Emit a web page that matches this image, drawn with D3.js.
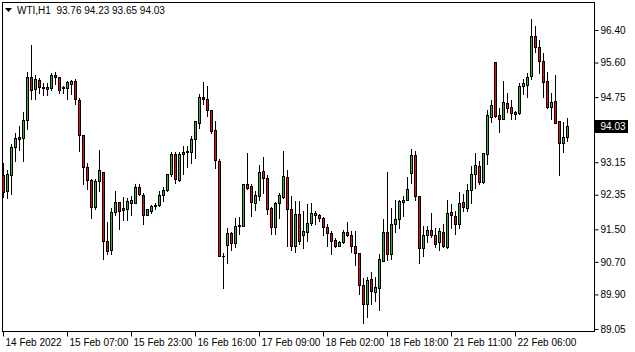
<!DOCTYPE html>
<html>
<head>
<meta charset="utf-8">
<script src="https://cdn.jsdelivr.net/npm/d3@7"></script>
<style>
  body { margin: 0; background: #fff; }
  svg { display: block; }
  text { font-family: "Liberation Sans", Arial, sans-serif; font-size: 10px; fill: #000; }
</style>
</head>
<body>
<svg id="chart" width="635" height="352"></svg>
<script>
// WTI hourly bars
const symbol = "WTI,H1";

const opens = [
  92.82, 92.42, 92.82, 93.51, 93.76, 93.74, 94.17, 95.24, 94.93, 95.17,
  94.99, 94.99, 94.97, 95.29, 95.23, 94.96, 94.96, 95.07, 95.14, 94.67,
  93.80, 93.01, 92.71, 92.03, 92.68, 92.90, 91.21, 90.97, 91.91, 92.16,
  92.01, 91.99, 92.14, 92.14, 92.53, 92.32, 91.85, 91.95, 92.06, 92.09,
  92.32, 92.45, 92.84, 93.35, 92.69, 93.33, 93.39, 93.39, 93.70, 94.11,
  94.75, 94.69, 94.43, 93.93, 93.17, 90.82, 91.11, 91.39, 91.15, 91.57,
  91.58, 92.59, 92.55, 92.14, 92.31, 92.92, 92.75, 92.02, 91.55, 92.14,
  92.29, 92.77, 91.98, 91.09, 91.87, 91.36, 91.42, 91.65, 91.85, 91.84,
  91.76, 91.54, 91.39, 91.22, 91.09, 91.17, 91.42, 91.36, 91.07, 90.91,
  90.13, 89.65, 90.27, 89.94, 90.04, 90.72, 91.42, 90.87, 91.61, 91.73,
  92.16, 92.20, 92.88, 93.32, 92.31, 91.03, 91.34, 91.46, 91.36, 91.17,
  91.42, 91.05, 91.91, 91.81, 91.61, 92.16, 92.00, 92.45, 92.84, 93.05,
  92.66, 93.33, 94.25, 95.61, 94.30, 94.21, 94.59, 94.50, 94.36, 94.34,
  95.00, 95.04, 95.25, 96.25, 95.98, 95.62, 95.14, 94.50, 94.65, 94.16,
  93.62, 93.76
];
const highs = [
  93.12, 92.94, 93.59, 93.86, 94.03, 94.38, 95.35, 96.02, 95.27, 95.20,
  95.09, 95.09, 95.32, 95.36, 95.24, 95.02, 95.14, 95.17, 95.19, 94.72,
  93.81, 93.11, 92.72, 92.72, 93.43, 92.90, 91.66, 92.02, 92.43, 92.16,
  92.28, 92.26, 92.31, 92.59, 92.59, 92.39, 91.99, 92.08, 92.13, 92.43,
  92.53, 92.86, 93.40, 93.40, 93.40, 93.54, 93.54, 93.79, 94.16, 94.81,
  95.10, 95.02, 94.43, 94.16, 93.21, 90.91, 91.51, 91.42, 91.76, 91.79,
  92.61, 93.36, 92.61, 92.43, 93.07, 93.27, 92.82, 92.03, 92.16, 92.39,
  93.42, 92.94, 92.31, 92.18, 92.18, 91.94, 92.12, 92.13, 91.95, 91.87,
  91.79, 91.61, 91.44, 91.28, 91.20, 91.46, 91.67, 91.44, 91.44, 90.91,
  90.29, 90.31, 90.43, 90.31, 90.87, 91.73, 92.90, 92.00, 92.22, 92.22,
  92.31, 92.77, 93.46, 93.42, 92.31, 91.57, 91.57, 91.89, 91.51, 91.51,
  91.61, 92.20, 92.12, 91.94, 92.41, 92.35, 92.59, 93.05, 93.36, 93.17,
  93.37, 94.42, 94.67, 95.61, 94.47, 95.14, 94.85, 94.67, 94.40, 95.08,
  95.18, 95.32, 96.65, 96.48, 96.13, 95.82, 95.36, 94.85, 95.27, 94.16,
  94.13, 94.23
];
const lows = [
  92.29, 92.26, 92.35, 93.17, 93.44, 93.17, 93.96, 94.70, 94.70, 94.85,
  94.80, 94.80, 94.92, 95.07, 94.85, 94.85, 94.70, 94.82, 94.57, 93.42,
  92.60, 92.49, 91.77, 91.98, 92.43, 90.76, 90.87, 90.88, 91.85, 91.50,
  91.71, 91.71, 91.83, 92.14, 92.34, 91.62, 91.83, 91.89, 91.98, 92.06,
  92.18, 92.43, 92.80, 92.63, 92.68, 92.86, 93.02, 93.13, 93.25, 93.98,
  94.57, 94.28, 93.86, 93.00, 90.83, 90.04, 90.66, 90.99, 91.05, 91.38,
  91.58, 92.47, 91.81, 91.96, 92.20, 92.39, 91.87, 91.38, 91.38, 91.77,
  92.26, 91.07, 90.97, 90.92, 91.13, 91.03, 91.20, 91.59, 91.61, 91.69,
  91.36, 91.07, 90.88, 91.05, 91.07, 91.15, 91.32, 90.92, 90.60, 89.90,
  89.18, 89.33, 89.65, 89.72, 89.51, 90.70, 90.74, 90.77, 91.42, 91.51,
  91.81, 92.20, 92.63, 92.22, 90.66, 90.83, 91.18, 91.29, 91.05, 90.97,
  91.05, 91.03, 91.52, 91.38, 91.51, 91.94, 91.94, 92.14, 92.51, 92.59,
  92.63, 93.09, 94.13, 94.25, 93.87, 94.21, 94.36, 94.20, 94.20, 94.32,
  94.81, 94.73, 95.18, 95.84, 95.32, 94.75, 94.48, 94.20, 94.11, 92.82,
  93.40, 93.65
];
const closes = [
  92.41, 92.85, 93.51, 93.74, 93.72, 94.17, 95.24, 94.91, 95.19, 94.98,
  94.96, 94.93, 95.29, 95.24, 94.92, 94.98, 95.11, 95.14, 94.69, 93.80,
  93.03, 92.70, 92.03, 92.68, 92.94, 91.21, 90.95, 91.91, 92.16, 91.95,
  91.97, 92.18, 92.21, 92.53, 92.35, 91.85, 91.98, 92.06, 92.09, 92.32,
  92.45, 92.86, 93.35, 92.72, 93.35, 93.39, 93.42, 93.70, 94.16, 94.75,
  94.69, 94.42, 93.91, 93.19, 90.84, 90.84, 91.39, 91.15, 91.57, 91.59,
  92.59, 92.51, 92.16, 92.33, 92.90, 92.74, 91.99, 91.55, 92.14, 92.33,
  92.80, 91.98, 91.07, 91.87, 91.20, 91.44, 91.65, 91.89, 91.89, 91.76,
  91.54, 91.39, 91.20, 91.09, 91.17, 91.42, 91.34, 91.09, 90.91, 90.13,
  89.65, 90.23, 89.96, 90.06, 90.76, 91.42, 90.87, 91.61, 91.73, 92.18,
  92.22, 92.47, 93.32, 92.31, 91.03, 91.34, 91.46, 91.36, 91.13, 91.44,
  91.07, 91.89, 91.83, 91.61, 92.14, 92.03, 92.45, 92.84, 93.07, 92.66,
  93.36, 94.30, 94.54, 94.28, 94.21, 94.62, 94.46, 94.34, 94.32, 95.02,
  95.08, 95.24, 96.25, 95.96, 95.62, 95.12, 94.50, 94.63, 94.11, 93.62,
  93.76, 94.03
];

// time axis: bar index of each label and its text
const timeLabelBars = [0, 16, 32, 48, 64, 80, 96, 112, 128];
const timeLabels = ["14 Feb 2022", "15 Feb 07:00", "15 Feb 23:00", "16 Feb 16:00",
  "17 Feb 09:00", "18 Feb 02:00", "18 Feb 18:00", "21 Feb 11:00", "22 Feb 06:00"];

const priceTicks = [96.40, 95.60, 94.75, 93.15, 92.35, 91.50, 90.70, 89.90, 89.05];

const green = "#3caa3c";
const red = "#e0101a";

const svg = d3.select("#chart");
const frame = { left: 2, right: 594, top: 2, bottom: 331 };

const n = opens.length;
const x = d3.scaleLinear().domain([0, n - 1]).range([3.5, 3.5 + 4 * (n - 1)]);
const y = d3.scaleLinear().domain([89.05, 96.40]).range([328.5, 29.5]);

const bars = opens.map((o, i) => ({ i: i, o: o, h: highs[i], l: lows[i], c: closes[i] }));
const py = v => Math.round(y(v));

// frame
svg.append("rect")
  .attr("x", frame.left + 0.5).attr("y", frame.top + 0.5)
  .attr("width", frame.right - frame.left).attr("height", frame.bottom - frame.top)
  .attr("fill", "none").attr("stroke", "#000");

// wicks
const g = svg.append("g");
g.selectAll("line.wick").data(bars).join("line")
  .attr("class", "wick")
  .attr("x1", d => x(d.i)).attr("x2", d => x(d.i))
  .attr("y1", d => py(d.h)).attr("y2", d => py(d.l) + 1)
  .attr("stroke", "#000");

// bodies
const solid = bars.filter(d => py(Math.min(d.o, d.c)) - py(Math.max(d.o, d.c)) >= 1);
const doji = bars.filter(d => py(Math.min(d.o, d.c)) - py(Math.max(d.o, d.c)) < 1);

g.selectAll("rect.body").data(solid).join("rect")
  .attr("class", "body")
  .attr("x", d => x(d.i) - 1).attr("width", 2)
  .attr("y", d => py(Math.max(d.o, d.c)) + 0.5)
  .attr("height", d => py(Math.min(d.o, d.c)) - py(Math.max(d.o, d.c)))
  .attr("fill", d => d.c >= d.o ? green : red)
  .attr("stroke", "#000");

g.selectAll("line.doji").data(doji).join("line")
  .attr("class", "doji")
  .attr("x1", d => x(d.i) - 1.5).attr("x2", d => x(d.i) + 1.5)
  .attr("y1", d => py(d.c) + 0.5).attr("y2", d => py(d.c) + 0.5)
  .attr("stroke", "#000");

// price axis on the right
const yAxis = d3.axisRight(y)
  .tickValues(priceTicks)
  .tickFormat(d3.format(".2f"))
  .tickSize(4)
  .tickPadding(2);
const ya = svg.append("g")
  .attr("transform", `translate(${frame.right + 0.5},0.5)`)
  .call(yAxis);
ya.select(".domain").remove();
ya.selectAll("text").style("font-family", null).style("font-size", null).attr("fill", "#000");
ya.selectAll("line").attr("stroke", "#000");

// time axis at the bottom
const xAxis = d3.axisBottom(x)
  .tickValues(timeLabelBars)
  .tickFormat((d, i) => timeLabels[i])
  .tickSize(5)
  .tickPadding(2);
const xa = svg.append("g")
  .attr("transform", `translate(-0.5,${frame.bottom + 0.5})`)
  .call(xAxis);
xa.select(".domain").remove();
xa.selectAll("text").attr("text-anchor", "start").attr("x", 2).attr("fill", "#000");
xa.selectAll("line").attr("stroke", "#000");

// last price marker
const last = closes[n - 1];
svg.append("rect")
  .attr("x", frame.right + 1).attr("y", py(last) - 6)
  .attr("width", 33).attr("height", 13)
  .attr("fill", "#000");
svg.append("text")
  .attr("x", frame.right + 6.5).attr("y", py(last) + 4)
  .style("fill", "#fff")
  .text(d3.format(".2f")(last));

// header
svg.append("path")
  .attr("d", "M5,8 L12,8 L8.5,12 Z")
  .attr("fill", "#000");
svg.append("text")
  .attr("x", 17).attr("y", 14)
  .text(`${symbol}  ${[opens[n - 1], highs[n - 1], lows[n - 1], closes[n - 1]].map(d3.format(".2f")).join(" ")}`)
  .attr("xml:space", "preserve")
  .style("white-space", "pre");
</script>
</body>
</html>
